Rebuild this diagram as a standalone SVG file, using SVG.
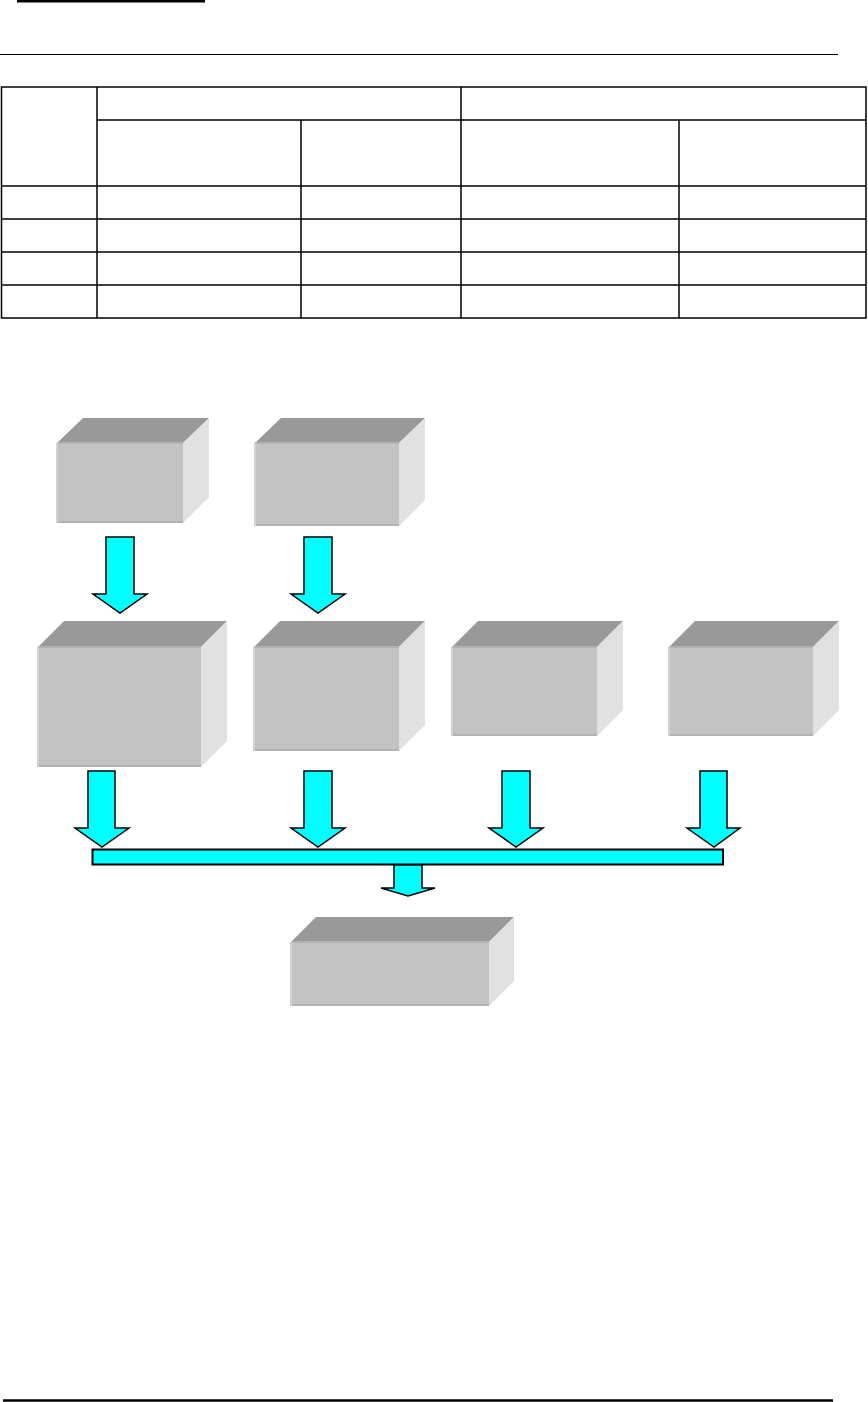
<svg xmlns="http://www.w3.org/2000/svg" width="868" height="1402" viewBox="0 0 868 1402">
<style>
.rule{stroke:#000;fill:none}
.tbl{stroke:#000;stroke-width:1.5;fill:none}
.front{fill:#c3c3c3}
.top{fill:#999999}
.side{fill:#e1e1e1}
.edgeL{stroke:#d2d2d2;stroke-width:2}
.edgeT{stroke:#b2b2b2;stroke-width:2}
.arrow{fill:#00ffff;stroke:#000;stroke-width:1.5;stroke-linejoin:miter}
.bar{fill:#00ffff;stroke:#000;stroke-width:2}
</style>
<g id="page-rules">
<line class="rule" x1="17" y1="1" x2="205" y2="1" stroke-width="3"/>
<line class="rule" x1="0" y1="54.5" x2="838" y2="54.5" stroke-width="1"/>
<line class="rule" x1="3" y1="1400.5" x2="833" y2="1400.5" stroke-width="2.5"/>
</g>
<g id="table">
<rect class="tbl" x="1.5" y="87" width="864.5" height="231"/>
<line class="tbl" x1="97" y1="87" x2="97" y2="318"/>
<line class="tbl" x1="461" y1="87" x2="461" y2="318"/>
<line class="tbl" x1="301" y1="120" x2="301" y2="318"/>
<line class="tbl" x1="679" y1="120" x2="679" y2="318"/>
<line class="tbl" x1="97" y1="120" x2="866" y2="120"/>
<line class="tbl" x1="1.5" y1="186" x2="866" y2="186"/>
<line class="tbl" x1="1.5" y1="219" x2="866" y2="219"/>
<line class="tbl" x1="1.5" y1="252" x2="866" y2="252"/>
<line class="tbl" x1="1.5" y1="285" x2="866" y2="285"/>
</g>
<g id="box1">
<polygon class="top" points="57,443 83,418 209,418 183,443"/>
<polygon class="side" points="183,443 209,418 209,497 183,523"/>
<rect class="front" x="57" y="443" width="126" height="80"/>
<line class="edgeT" x1="57" y1="443" x2="183" y2="443"/>
<line class="edgeT" x1="57" y1="522" x2="183" y2="522"/>
<line class="edgeL" x1="57" y1="443" x2="57" y2="523"/>
</g>
<g id="box2">
<polygon class="top" points="255,443 281,418 425,418 399,443"/>
<polygon class="side" points="399,443 425,418 425,500 399,526"/>
<rect class="front" x="255" y="443" width="144" height="83"/>
<line class="edgeT" x1="255" y1="443" x2="399" y2="443"/>
<line class="edgeT" x1="255" y1="525" x2="399" y2="525"/>
<line class="edgeL" x1="255" y1="443" x2="255" y2="526"/>
</g>
<g id="box3">
<polygon class="top" points="38,647 64,621 227,621 201,647"/>
<polygon class="side" points="201,647 227,621 227,741 201,767"/>
<rect class="front" x="38" y="647" width="163" height="120"/>
<line class="edgeT" x1="38" y1="647" x2="201" y2="647"/>
<line class="edgeT" x1="38" y1="766" x2="201" y2="766"/>
<line class="edgeL" x1="38" y1="647" x2="38" y2="767"/>
</g>
<g id="box4">
<polygon class="top" points="254,647 280,621 425,621 399,647"/>
<polygon class="side" points="399,647 425,621 425,725 399,751"/>
<rect class="front" x="254" y="647" width="145" height="104"/>
<line class="edgeT" x1="254" y1="647" x2="399" y2="647"/>
<line class="edgeT" x1="254" y1="750" x2="399" y2="750"/>
<line class="edgeL" x1="254" y1="647" x2="254" y2="751"/>
</g>
<g id="box5">
<polygon class="top" points="452,647 478,621 623,621 597,647"/>
<polygon class="side" points="597,647 623,621 623,710 597,736"/>
<rect class="front" x="452" y="647" width="145" height="89"/>
<line class="edgeT" x1="452" y1="647" x2="597" y2="647"/>
<line class="edgeT" x1="452" y1="735" x2="597" y2="735"/>
<line class="edgeL" x1="452" y1="647" x2="452" y2="736"/>
</g>
<g id="box6">
<polygon class="top" points="669,647 695,621 839,621 813,647"/>
<polygon class="side" points="813,647 839,621 839,710 813,736"/>
<rect class="front" x="669" y="647" width="144" height="89"/>
<line class="edgeT" x1="669" y1="647" x2="813" y2="647"/>
<line class="edgeT" x1="669" y1="735" x2="813" y2="735"/>
<line class="edgeL" x1="669" y1="647" x2="669" y2="736"/>
</g>
<g id="box7">
<polygon class="top" points="291,942 316,917 514,917 489,942"/>
<polygon class="side" points="489,942 514,917 514,981 489,1006"/>
<rect class="front" x="291" y="942" width="198" height="64"/>
<line class="edgeT" x1="291" y1="942" x2="489" y2="942"/>
<line class="edgeT" x1="291" y1="1005" x2="489" y2="1005"/>
<line class="edgeL" x1="291" y1="942" x2="291" y2="1006"/>
</g>
<g id="connectors">
<polygon class="arrow" points="106,537 134,537 134,594 147,594 120,613 93,594 106,594"/>
<polygon class="arrow" points="304,537 332,537 332,594 345,594 318,613 291,594 304,594"/>
<polygon class="arrow" points="88,771 115,771 115,828 129,828 102,847 75,828 88,828"/>
<polygon class="arrow" points="304,771 332,771 332,828 345,828 318,847 291,828 304,828"/>
<polygon class="arrow" points="502,771 530,771 530,828 543,828 516,847 489,828 502,828"/>
<polygon class="arrow" points="700,771 727,771 727,828 740,828 714,847 687,828 700,828"/>
<rect class="bar" x="92.5" y="849.5" width="630.5" height="15"/>
<polygon class="arrow" points="394,865 422,865 422,888 435,888 408,896 381,888 394,888"/>
</g>
</svg>
